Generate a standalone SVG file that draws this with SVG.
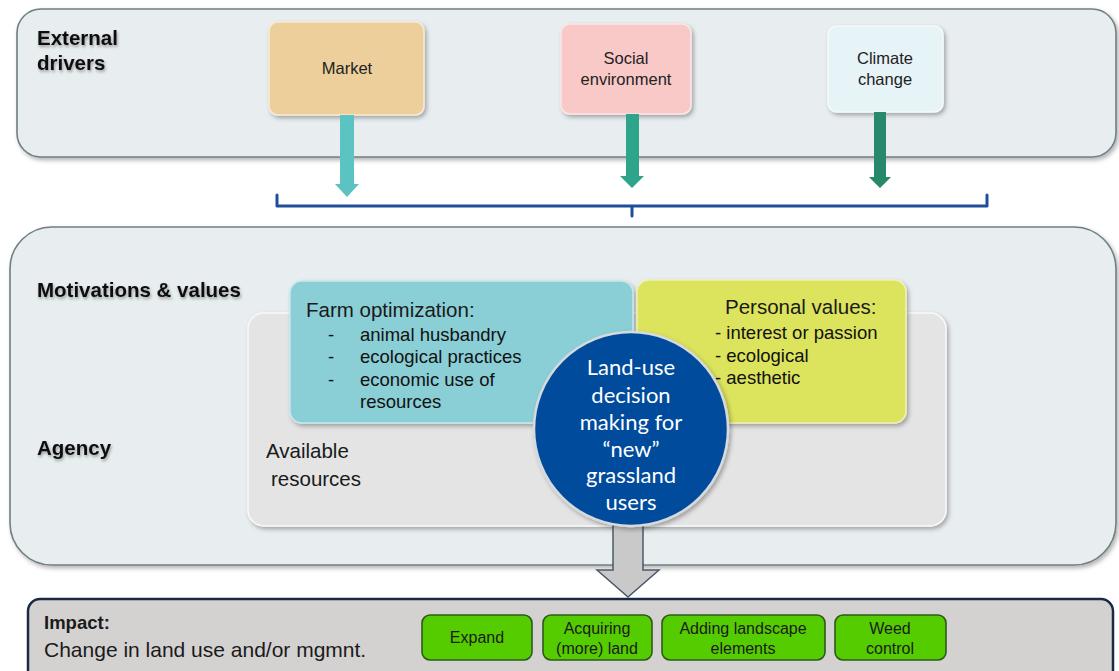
<svg xmlns="http://www.w3.org/2000/svg" width="1119" height="671" viewBox="0 0 1119 671">
  <defs>
    <filter id="shadow" x="-10%" y="-10%" width="125%" height="130%">
      <feDropShadow dx="2" dy="2.5" stdDeviation="2" flood-color="#000" flood-opacity="0.3"/>
    </filter>
    <filter id="textShadow" x="-5%" y="-20%" width="115%" height="160%">
      <feDropShadow dx="1" dy="2" stdDeviation="1.5" flood-color="#000" flood-opacity="0.35"/>
    </filter>
    <style>
      .panel { fill: #E8EDF0; stroke: #6F7F82; stroke-width: 1.6; }
      .title { font-family: "Liberation Sans", Arial, sans-serif; font-weight: bold; font-size: 20.5px; fill: #111; }
      .sans { font-family: "Liberation Sans", Arial, sans-serif; fill: #1a1a1a; }
      .driver { font-size: 16.5px; text-anchor: middle; fill: #222; }
      .head { font-size: 20.5px; }
      .item { font-size: 18.5px; fill: #111; }
      .btn { fill: #55CC00; stroke: #2E5A1C; stroke-width: 1.6; }
      .btnText { font-family: "Liberation Sans", Arial, sans-serif; font-size: 16px; fill: #1a1a1a; text-anchor: middle; }
      .circleText { font-family: Lato, "Open Sans", sans-serif; font-size: 22px; fill: #fff; text-anchor: middle; }
    </style>
  </defs>

  <rect width="1119" height="671" fill="#fff"/>

  <!-- External drivers panel -->
  <g id="external-drivers">
    <rect class="panel" x="17" y="9" width="1099" height="148" rx="24" filter="url(#shadow)"/>
    <text class="title" x="37" y="45" filter="url(#textShadow)">External</text>
    <text class="title" x="37" y="70" filter="url(#textShadow)">drivers</text>
  </g>

  <g id="market">
    <rect x="269" y="22" width="155" height="93" rx="9" fill="#EDCF9B" stroke="#F6EAD3" stroke-width="1.5" filter="url(#shadow)"/>
    <text class="sans driver" x="347" y="74">Market</text>
  </g>

  <g id="social-environment">
    <rect x="561" y="24" width="130" height="90" rx="9" fill="#F9C9C8" stroke="#FCE6E5" stroke-width="1.5" filter="url(#shadow)"/>
    <text class="sans driver" x="626" y="64">Social</text>
    <text class="sans driver" x="626" y="85">environment</text>
  </g>

  <g id="climate-change">
    <rect x="828" y="26" width="115" height="86" rx="9" fill="#E6F3F7" stroke="#F5FAFC" stroke-width="1.5" filter="url(#shadow)"/>
    <text class="sans driver" x="885" y="64">Climate</text>
    <text class="sans driver" x="885" y="85">change</text>
  </g>

  <!-- Motivations, values and agency panel -->
  <g id="motivations-agency">
    <rect class="panel" x="10" y="227" width="1106" height="338" rx="42" filter="url(#shadow)"/>
    <text class="title" x="37" y="297" filter="url(#textShadow)">Motivations &amp; values</text>
    <text class="title" x="37" y="455" filter="url(#textShadow)">Agency</text>
  </g>

  <g id="available-resources">
    <rect x="248" y="313" width="698" height="213" rx="16" fill="#E4E4E4" stroke="#F9F9F9" stroke-width="1.5" filter="url(#shadow)"/>
    <text class="sans head" x="266" y="458">Available</text>
    <text class="sans head" x="271" y="486">resources</text>
  </g>

  <g id="farm-optimization">
    <rect x="290" y="281" width="343" height="142" rx="12" fill="#8ACED6" stroke="#C8E8EC" stroke-width="1.5" filter="url(#shadow)"/>
    <text class="sans head" x="306" y="317">Farm optimization:</text>
    <text class="sans item" x="328" y="341">-</text>
    <text class="sans item" x="360" y="341">animal husbandry</text>
    <text class="sans item" x="328" y="363">-</text>
    <text class="sans item" x="360" y="363">ecological practices</text>
    <text class="sans item" x="328" y="386">-</text>
    <text class="sans item" x="360" y="386">economic use of</text>
    <text class="sans item" x="360" y="408">resources</text>
  </g>

  <g id="personal-values">
    <rect x="637" y="280" width="269" height="143" rx="12" fill="#DCE35B" stroke="#EEF2B8" stroke-width="1.5" filter="url(#shadow)"/>
    <text class="sans head" x="725" y="314">Personal values:</text>
    <text class="sans item" x="715" y="339">- interest or passion</text>
    <text class="sans item" x="715" y="362">- ecological</text>
    <text class="sans item" x="715" y="384">- aesthetic</text>
  </g>

  <!-- Impact panel -->
  <g id="impact">
    <rect x="28" y="599" width="1085" height="92" rx="12" fill="#D4D1D1" stroke="#1B2A44" stroke-width="2.5"/>
    <text class="sans" x="44" y="629" font-size="18.5" font-weight="bold" fill="#3c3c3c">Impact:</text>
    <text class="sans" x="44" y="657" font-size="21" fill="#505050">Change in land use and/or mgmnt.</text>
  </g>

  <g id="expand">
    <rect class="btn" x="422" y="615" width="110" height="45" rx="8"/>
    <text class="btnText" x="477" y="643">Expand</text>
  </g>
  <g id="acquiring-land">
    <rect class="btn" x="543" y="615" width="109" height="45" rx="8"/>
    <text class="btnText" x="597" y="634">Acquiring</text>
    <text class="btnText" x="597" y="654">(more) land</text>
  </g>
  <g id="adding-landscape-elements">
    <rect class="btn" x="662" y="615" width="163" height="45" rx="8"/>
    <text class="btnText" x="743" y="634">Adding landscape</text>
    <text class="btnText" x="743" y="654">elements</text>
  </g>
  <g id="weed-control">
    <rect class="btn" x="835" y="615" width="111" height="45" rx="8"/>
    <text class="btnText" x="890" y="634">Weed</text>
    <text class="btnText" x="890" y="654">control</text>
  </g>

  <!-- Connectors: driver arrows, bracket, and decision arrow -->
  <g id="connectors">
    <path d="M340 115 H354 V184 H359 L347 197 L335 184 H340 Z" fill="#5CC3C3"/>
    <path d="M626 114 H639 V176 H644 L632 188 L620 176 H626 Z" fill="#2EA58A"/>
    <path d="M874 112 H886 V177 H891 L880 188 L869 177 H874 Z" fill="#27886B"/>
    <path d="M277 195 V206 H987 V195 M632 206 V216" fill="none" stroke="#1F4E9C" stroke-width="3" stroke-linejoin="round" stroke-linecap="round"/>
    <path d="M613 515 H643 V570 H659 L628 597 L597 570 H613 Z" fill="#C9C9C9" stroke="#4A5A6A" stroke-width="1.5" stroke-linejoin="miter"/>
  </g>

  <g id="land-use-decision">
    <circle cx="631" cy="429" r="97" fill="#064B9C" stroke="#D5DADE" stroke-width="2.5" filter="url(#shadow)"/>
    <text class="circleText" x="631" y="375">Land-use</text>
    <text class="circleText" x="631" y="403">decision</text>
    <text class="circleText" x="631" y="430">making for</text>
    <text class="circleText" x="631" y="457">“new”</text>
    <text class="circleText" x="631" y="483">grassland</text>
    <text class="circleText" x="631" y="510">users</text>
  </g>
</svg>
